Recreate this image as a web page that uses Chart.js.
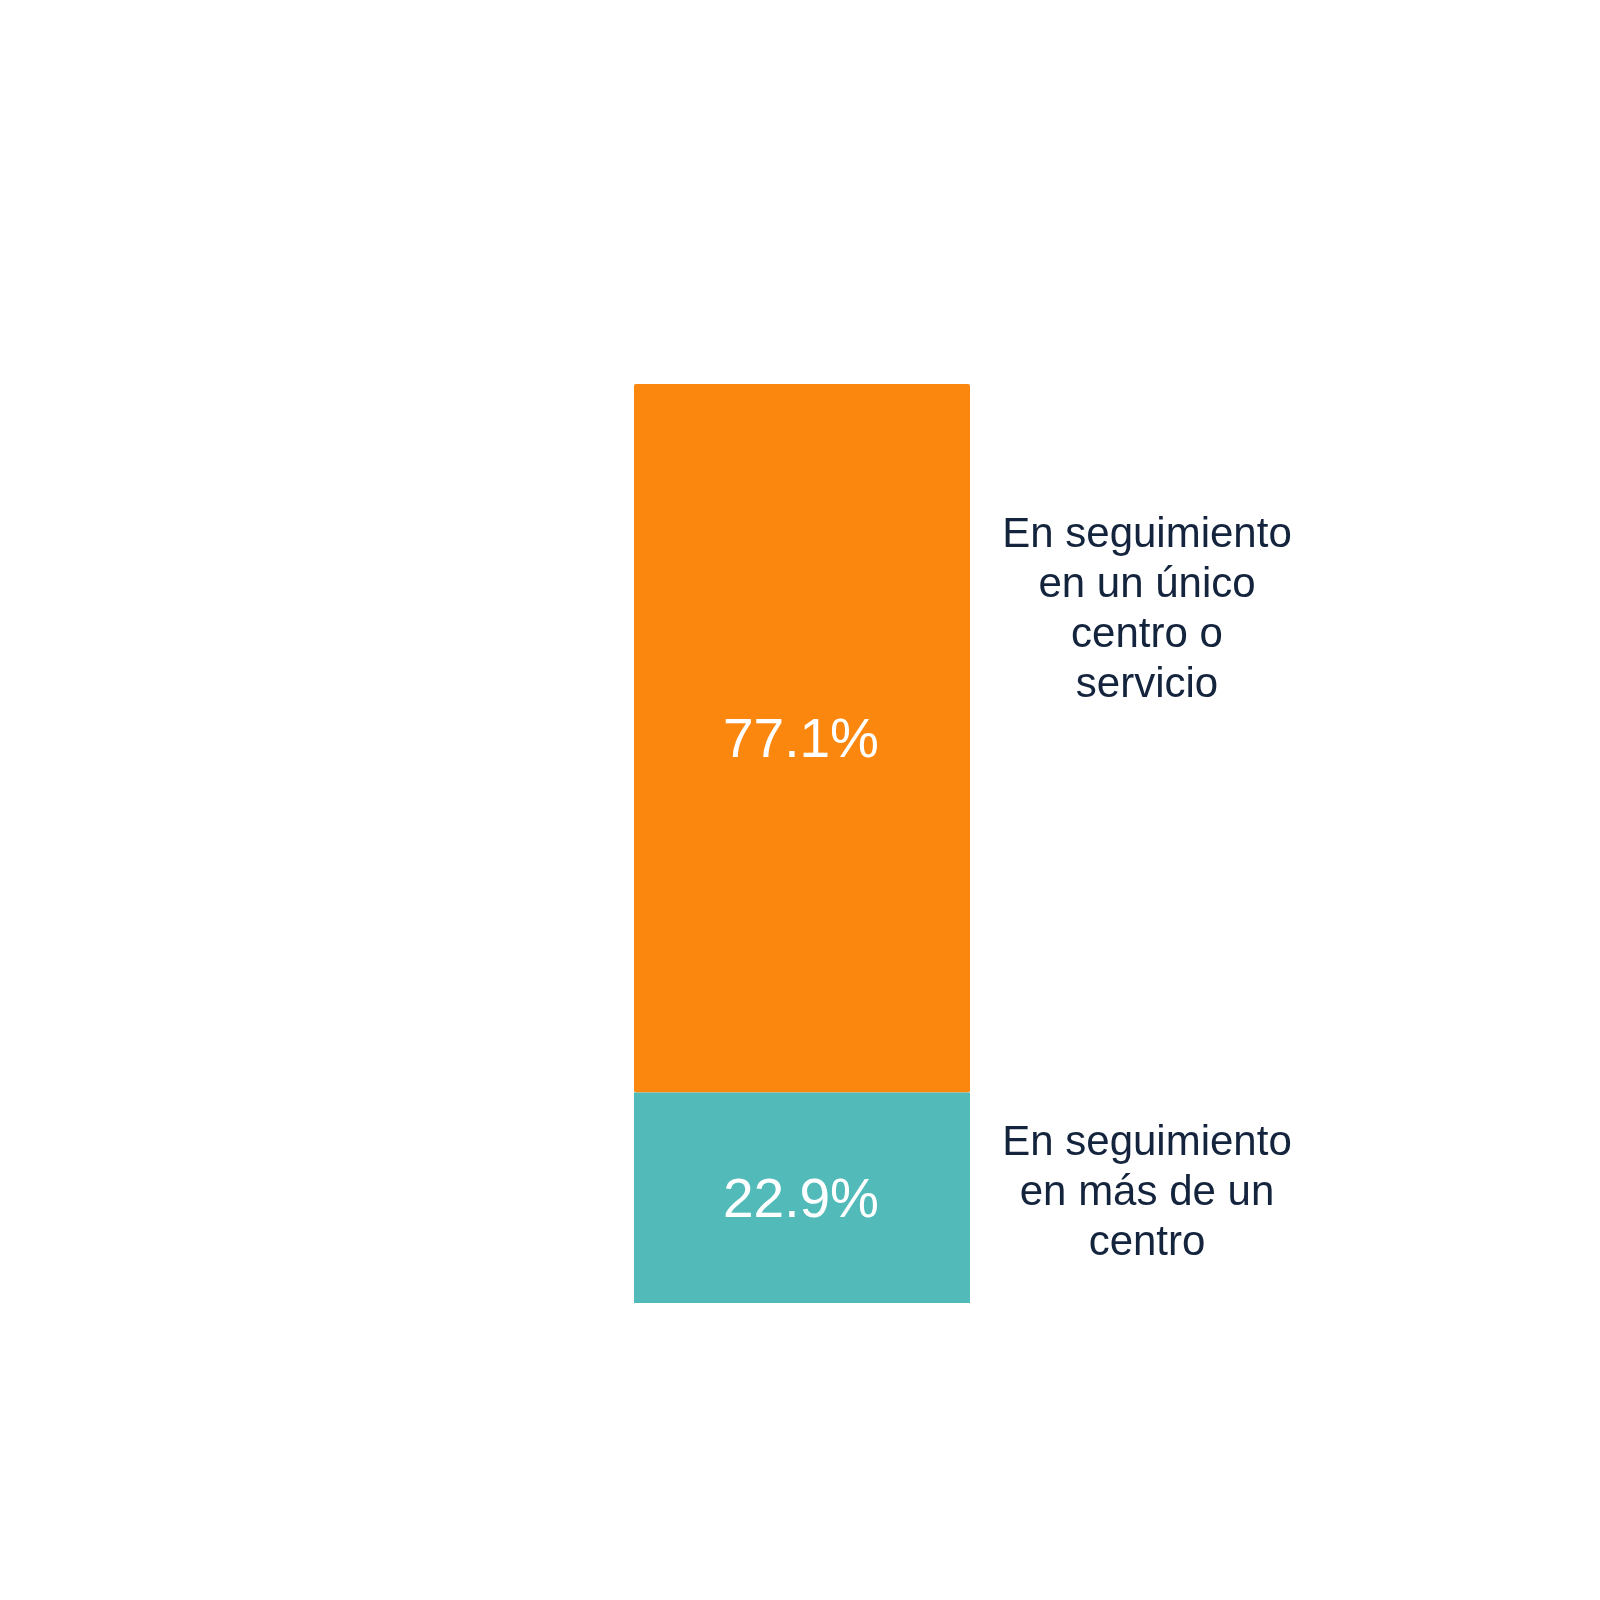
<!DOCTYPE html>
<html>
<head>
<meta charset="utf-8">
<script src="https://cdn.jsdelivr.net/npm/chart.js@4"></script>
<style>
  html, body { margin: 0; padding: 0; background: #ffffff; }
  #wrap { width: 1600px; height: 1600px; }
</style>
</head>
<body>
<div id="wrap"><canvas id="c" width="1600" height="1600"></canvas></div>
<script>
// ---- data ----
const categories = [""];
const seriesNames = [
  ["En seguimiento", "en más de un", "centro"],
  ["En seguimiento", "en un único", "centro o", "servicio"]
];
const seriesValues = [22.9, 77.1];
const seriesColors = ["#52BBBA", "#FB870F"];

const datasets = seriesValues.map((v, i) => ({
  label: seriesNames[i].join(" "),
  data: [v],
  backgroundColor: seriesColors[i],
  borderWidth: 0,
  borderRadius: 2,
  borderSkipped: false,
  categoryPercentage: 1.0,
  barPercentage: 0.5
}));

const labelPlugin = {
  id: "segLabels",
  afterDatasetsDraw(chart, args, opts) {
    const ctx = chart.ctx;
    chart.data.datasets.forEach((ds, i) => {
      const meta = chart.getDatasetMeta(i);
      meta.data.forEach((bar, j) => {
        const top = Math.min(bar.y, bar.base);
        const bottom = Math.max(bar.y, bar.base);
        const cy = (top + bottom) / 2;
        // value inside bar
        ctx.save();
        ctx.fillStyle = "#ffffff";
        ctx.font = "55px 'Liberation Sans', Arial, sans-serif";
        ctx.textAlign = "center";
        ctx.textBaseline = "middle";
        ctx.fillText(ds.data[j].toFixed(1) + "%", bar.x - 1, cy + 4);
        // category label on right
        const lines = seriesNames[i];
        const lh = opts.lineHeight;
        const blockCenter = top + (bottom - top) * opts.anchor[i];
        const x = bar.x + bar.width / 2 + opts.gap;
        ctx.fillStyle = "#14243D";
        ctx.font = "42px 'Liberation Sans', Arial, sans-serif";
        const start = blockCenter - (lines.length - 1) * lh / 2;
        lines.forEach((ln, k) => ctx.fillText(ln, x, start + k * lh));
        ctx.restore();
      });
    });
  }
};

new Chart(document.getElementById("c"), {
  type: "bar",
  data: { labels: categories, datasets },
  options: {
    responsive: false,
    animation: false,
    devicePixelRatio: 1,
    layout: { padding: { top: 384, bottom: 297, left: 466, right: 462 } },
    plugins: {
      legend: { display: false },
      tooltip: { enabled: false },
      segLabels: { lineHeight: 50, anchor: [0.48, 0.32], gap: 177 }
    },
    scales: {
      x: { display: false, stacked: true },
      y: { display: false, stacked: true, min: 0, max: 100 }
    }
  },
  plugins: [labelPlugin]
});
</script>
</body>
</html>
